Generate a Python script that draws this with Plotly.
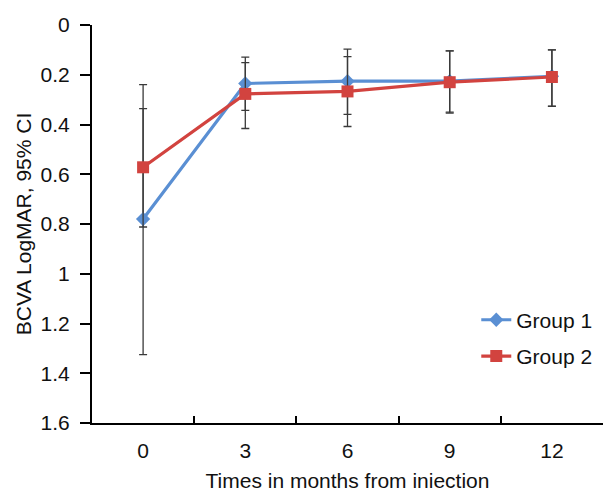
import plotly.graph_objects as go

months = ["0", "3", "6", "9", "12"]
group1 = [0.78, 0.235, 0.226, 0.226, 0.206]
group1_err_up = [0.545, 0.108, 0.133, 0.124, 0.12]     # toward larger LogMAR
group1_err_down = [0.54, 0.106, 0.129, 0.122, 0.106]
group2 = [0.572, 0.277, 0.267, 0.23, 0.209]
group2_err_up = [0.24, 0.139, 0.141, 0.124, 0.118]
group2_err_down = [0.236, 0.126, 0.14, 0.126, 0.109]
y_ticks = [0, 0.2, 0.4, 0.6, 0.8, 1, 1.2, 1.4, 1.6]

blue = "#5A8FD3"
red = "#D2433F"
err_col = "#3a3a3a"
font = "Liberation Sans, Arial, sans-serif"
fs = 21

fig = go.Figure()
fig.add_trace(go.Scatter(
    x=months, y=group1, name="Group 1", mode="lines+markers",
    line=dict(color=blue, width=3.2),
    marker=dict(symbol="diamond", size=11, color=blue),
    error_y=dict(type="data", symmetric=False, array=group1_err_up,
                 arrayminus=group1_err_down, color=err_col, thickness=1.3, width=4),
    legendgroup="g1",
))
fig.add_trace(go.Scatter(
    x=months, y=group2, name="Group 2", mode="lines+markers",
    line=dict(color=red, width=3.2),
    marker=dict(symbol="square", size=12, color=red),
    error_y=dict(type="data", symmetric=False, array=group2_err_up,
                 arrayminus=group2_err_down, color=err_col, thickness=1.3, width=4),
    legendgroup="g2",
))

fig.update_layout(
    width=604, height=492,
    margin=dict(l=92, r=1, t=25, b=67),
    paper_bgcolor="white", plot_bgcolor="white",
    font=dict(family=font, size=fs, color="#111111"),
    showlegend=True,
    legend=dict(x=0.752, y=0.31, xanchor="left", yanchor="top",
                traceorder="grouped", tracegroupgap=6,
                font=dict(size=fs), bgcolor="rgba(0,0,0,0)"),
    xaxis=dict(
        type="category", range=[-0.5, 4.5],
        showline=True, linecolor="black", linewidth=2,
        ticks="inside", tickson="boundaries", ticklen=7, tickwidth=2, tickcolor="black",
        showgrid=False, zeroline=False, ticklabelstandoff=8,
        title=dict(text="Times in months from iniection", standoff=14,
                   font=dict(size=fs)),
        tickfont=dict(size=fs),
    ),
    yaxis=dict(
        range=[1.6, 0], tickvals=y_ticks,
        showline=True, linecolor="black", linewidth=2,
        ticks="outside", ticklen=10, tickwidth=2, tickcolor="black",
        showgrid=False, zeroline=False, ticklabelstandoff=6,
        title=dict(text="BCVA LogMAR, 95% CI", standoff=3, font=dict(size=fs)),
        tickfont=dict(size=fs),
    ),
)

fig.write_html("out.html")
